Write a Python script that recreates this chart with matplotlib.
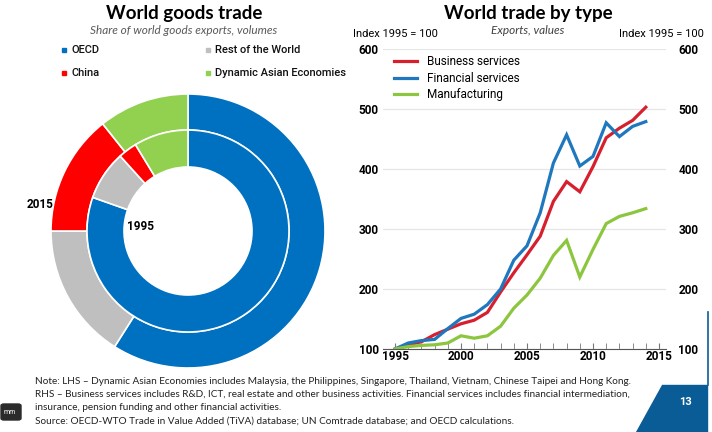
import matplotlib
matplotlib.use("Agg")
import matplotlib.pyplot as plt
from matplotlib.patches import Polygon, FancyBboxPatch

# donut data (shares, %)
groups = ["OECD", "Rest of the World", "China", "Dynamic Asian Economies"]
share_2015 = [59.0, 16.0, 14.3, 10.7]
share_1995 = [80.4, 7.9, 3.0, 8.7]
donut_colors = ["#0070C0", "#BFBFBF", "#FF0000", "#92D050"]

# line chart data (index 1995 = 100)
years = list(range(1995, 2015))
business = [100, 107, 112, 124, 133, 142, 148, 161, 195, 227, 257, 288, 346, 379, 362, 404, 452, 468, 481, 503]
financial = [100, 110, 114, 116, 134, 151, 158, 174, 200, 248, 272, 327, 410, 457, 405, 421, 477, 454, 471, 479]
manufacturing = [100, 104, 106, 107, 110, 122, 118, 122, 138, 168, 190, 218, 256, 281, 220, 266, 309, 321, 327, 334]
series_names = ["Business services", "Financial services", "Manufacturing"]
series_colors = ["#D7202E", "#1F78BE", "#8CC63F"]

W, H = 712, 432
fig = plt.figure(figsize=(W / 100, H / 100), dpi=100)
fig.patch.set_facecolor("white")


def fx(x):
    return x / W


def fy(y):
    return 1 - y / H


narrow = ["Roboto", "Liberation Sans", "DejaVu Sans"]
calib = ["Lato", "DejaVu Sans"]

# ---------------- left: donut ----------------
cx, cy, r = 188, 231, 137
half = 140
axd = fig.add_axes([fx(cx - half), fy(cy + half), 2 * half / W, 2 * half / H])
axd.set_aspect("equal")
axd.axis("off")
axd.pie(share_2015, radius=1.0, colors=donut_colors, startangle=90, counterclock=False,
        wedgeprops=dict(width=36 / r, edgecolor="white", linewidth=1.2))
axd.pie(share_1995, radius=101 / r, colors=donut_colors, startangle=90, counterclock=False,
        wedgeprops=dict(width=37 / r, edgecolor="white", linewidth=1.2))
axd.set_xlim(-half / r, half / r)
axd.set_ylim(-half / r, half / r)

fig.text(fx(40), fy(205), "2015", ha="center", va="center", fontsize=8.5, fontweight="bold", family=narrow)
fig.text(fx(141), fy(226), "1995", ha="center", va="center", fontsize=8.5, fontweight="bold", family=narrow)

fig.text(fx(184), fy(13), "World goods trade", ha="center", va="center", fontsize=13.5,
         fontweight="bold", family=calib)
fig.text(fx(184), fy(30), "Share of world goods exports, volumes", ha="center", va="center",
         fontsize=8.5, style="italic", color="#595959", family=calib)

leg_pos = [(64, 50), (208, 50), (64, 73), (208, 73)]
for (lx, ly), name, col in zip(leg_pos, groups, donut_colors):
    fig.patches.append(plt.Rectangle((fx(lx - 2), fy(ly + 2)), 4 / W, 4 / H, color=col,
                                     transform=fig.transFigure, figure=fig))
    fig.text(fx(lx + 7), fy(ly), name, ha="left", va="center", fontsize=8,
             fontweight="medium", family=narrow, color="#111111")

# ---------------- right: line chart ----------------
ax = fig.add_axes([fx(383), fy(349), 283 / W, 300 / H])
ax.set_xlim(1994.09, 2015.53)
ax.set_ylim(100, 600)
for name, vals, col in zip(series_names, [business, financial, manufacturing], series_colors):
    ax.plot(years, vals, color=col, linewidth=2.3, label=name, solid_joinstyle="miter")

ax.set_yticks([100, 200, 300, 400, 500, 600])
ax.grid(axis="y", color="#E6E6E6", linewidth=0.9)
ax.set_axisbelow(True)
for s in ["top", "left", "right"]:
    ax.spines[s].set_visible(False)
ax.spines["bottom"].set_color("#555555")
ax.spines["bottom"].set_linewidth(0.8)
ax.set_xticks([1995, 2000, 2005, 2010, 2015])
ax.set_xticks(years + [2015], minor=True)
ax.tick_params(axis="x", which="both", direction="in", length=4, color="#777777", pad=1,
               labelsize=8.5)
ax.tick_params(axis="y", length=0, pad=3, labelsize=8.5)
for lab in ax.get_xticklabels() + ax.get_yticklabels():
    lab.set_fontweight("bold")
    lab.set_family(narrow)

ax2 = ax.twinx()
ax2.set_ylim(100, 600)
ax2.set_yticks([100, 200, 300, 400, 500, 600])
for s in ["top", "left", "right", "bottom"]:
    ax2.spines[s].set_visible(False)
ax2.tick_params(axis="y", length=0, pad=9, labelsize=8.5)
for lab in ax2.get_yticklabels():
    lab.set_fontweight("bold")
    lab.set_family(narrow)

leg = ax.legend(loc="upper left", bbox_to_anchor=(0.0, 1.015), frameon=False, handlelength=2.0,
                handletextpad=0.8, labelspacing=0.3, borderaxespad=0.5,
                prop={"family": narrow, "size": 8.5})

fig.text(fx(528), fy(13), "World trade by type", ha="center", va="center", fontsize=13.5,
         fontweight="bold", family=calib)
fig.text(fx(528), fy(30), "Exports, values", ha="center", va="center", fontsize=8.5,
         style="italic", color="#404040", family=calib)
fig.text(fx(353), fy(34), "Index 1995 = 100", ha="left", va="center", fontsize=8, family=narrow)
fig.text(fx(704), fy(34), "Index 1995 = 100", ha="right", va="center", fontsize=8, family=narrow)

# ---------------- footnote ----------------
notes = [
    "Note: LHS \u2013 Dynamic Asian Economies includes Malaysia, the Philippines, Singapore, Thailand, Vietnam, Chinese Taipei and Hong Kong.",
    "RHS \u2013 Business services includes R&D, ICT, real estate and other business activities. Financial services includes financial intermediation,",
    "insurance, pension funding and other financial activities.",
    "Source: OECD-WTO Trade in Value Added (TiVA) database; UN Comtrade database; and OECD calculations.",
]
for i, line in enumerate(notes):
    fig.text(fx(35), fy(381 + i * 13.5), line, ha="left", va="center", fontsize=7.2,
             family=calib, color="#222222")

# page number tab
fig.patches.append(Polygon([(fx(662), fy(385)), (fx(707), fy(385)), (fx(707), fy(432)),
                            (fx(636), fy(432))], closed=True, color="#0A5C96",
                           transform=fig.transFigure, figure=fig))
fig.lines.append(plt.Line2D([fx(708), fx(708)], [fy(312), fy(385)], color="#0A5C96",
                            linewidth=1.2, transform=fig.transFigure, figure=fig))
fig.text(fx(686), fy(402), "13", ha="center", va="center", fontsize=8, color="white",
         fontweight="bold", family=narrow)

# small dark tag at bottom left
fig.patches.append(FancyBboxPatch((fx(1), fy(420)), 20 / W, 16 / H,
                                  boxstyle="round,pad=0,rounding_size=0.004", color="#2B2B2B",
                                  transform=fig.transFigure, figure=fig))
fig.text(fx(10), fy(412), "mm", ha="center", va="center", fontsize=5, color="white", family=narrow)

fig.savefig("out.png", dpi=100)
